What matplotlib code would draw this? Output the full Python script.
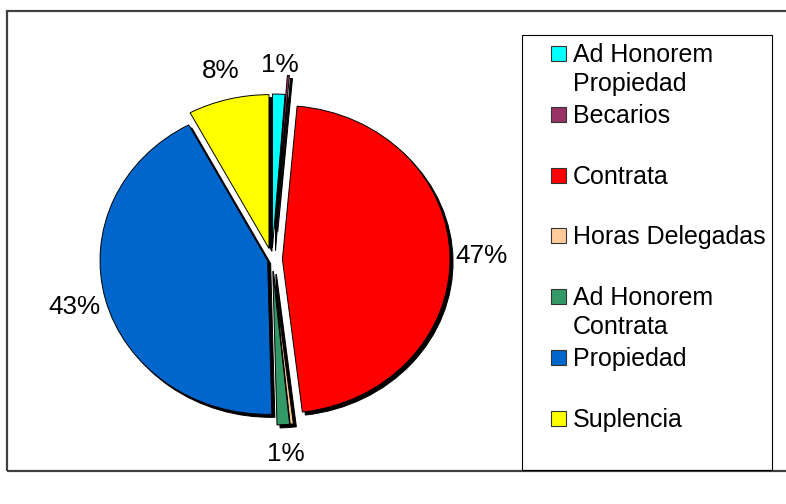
import matplotlib
matplotlib.use("Agg")
import matplotlib.pyplot as plt
from matplotlib.patches import Rectangle

plt.rcParams['font.family'] = ['Liberation Sans', 'DejaVu Sans']

# data (percent of staff by category)
categories = ["Ad Honorem\nPropiedad", "Becarios", "Contrata", "Horas Delegadas",
              "Ad Honorem\nContrata", "Propiedad", "Suplencia"]
shares = [1.2, 0.2, 46.7, 0.3, 1.2, 42.6, 7.8]
colors = ["#00FFFF", "#993366", "#FF0000", "#FFCC99", "#339966", "#0066CC", "#FFFF00"]
explode = [0.076, 0.2, 0.062, 0.076, 0.076, 0.027, 0.074]

W, H = 786, 504
fig = plt.figure(figsize=(W / 100, H / 100), dpi=100)
fig.patch.set_facecolor("white")


def fx(px):
    return px / W


def fy(py):
    # py measured from the top of the picture
    return 1 - py / H


# outer chart frame
fig.add_artist(Rectangle((fx(7), fy(471)), fx(790) - fx(7), fy(11) - fy(471),
                         transform=fig.transFigure, fill=False,
                         edgecolor="#404040", linewidth=1.6, zorder=0))

ax = fig.add_axes([0, 0, 1, 1])
ax.patch.set_visible(False)


def pct_label(p):
    return "%.0f%%" % p if p >= 0.5 else ""


wedges, texts, autotexts = ax.pie(
    shares, colors=colors, explode=explode, startangle=90, counterclock=False,
    autopct=pct_label, pctdistance=1.19,
    wedgeprops=dict(edgecolor="black", linewidth=0.7),
    shadow={'ox': 0.013, 'oy': -0.014, 'shade': 1.0, 'alpha': 1.0},
    textprops=dict(fontsize=18.8, color="black"))

# pie is slightly wider than tall in the reference
cx, cy, rx, ry = 272, 259.5, 167.6, 153.8
ax.set_aspect('auto')
ax.set_xlim(-cx / rx, (W - cx) / rx)
ax.set_ylim(-(H - cy) / ry, cy / ry)
ax.axis('off')

# legend box
fig.add_artist(Rectangle((fx(522), fy(470)), fx(772) - fx(522), fy(35) - fy(470),
                         transform=fig.transFigure, fill=False,
                         edgecolor="black", linewidth=0.8, zorder=1))

slot0, step = 53.5, 60.8
for i, (name, col) in enumerate(zip(categories, colors)):
    yc = slot0 + i * step
    fig.add_artist(Rectangle((fx(551), fy(yc + 7.5)), fx(15), 15 / H,
                             transform=fig.transFigure, facecolor=col,
                             edgecolor="#333333", linewidth=0.8, zorder=2))
    for j, line in enumerate(name.split("\n")):
        fig.text(fx(573), fy(yc + 8.5 + j * 29), line, fontsize=18,
                 ha="left", va="baseline")

fig.savefig("out.png", dpi=100)
